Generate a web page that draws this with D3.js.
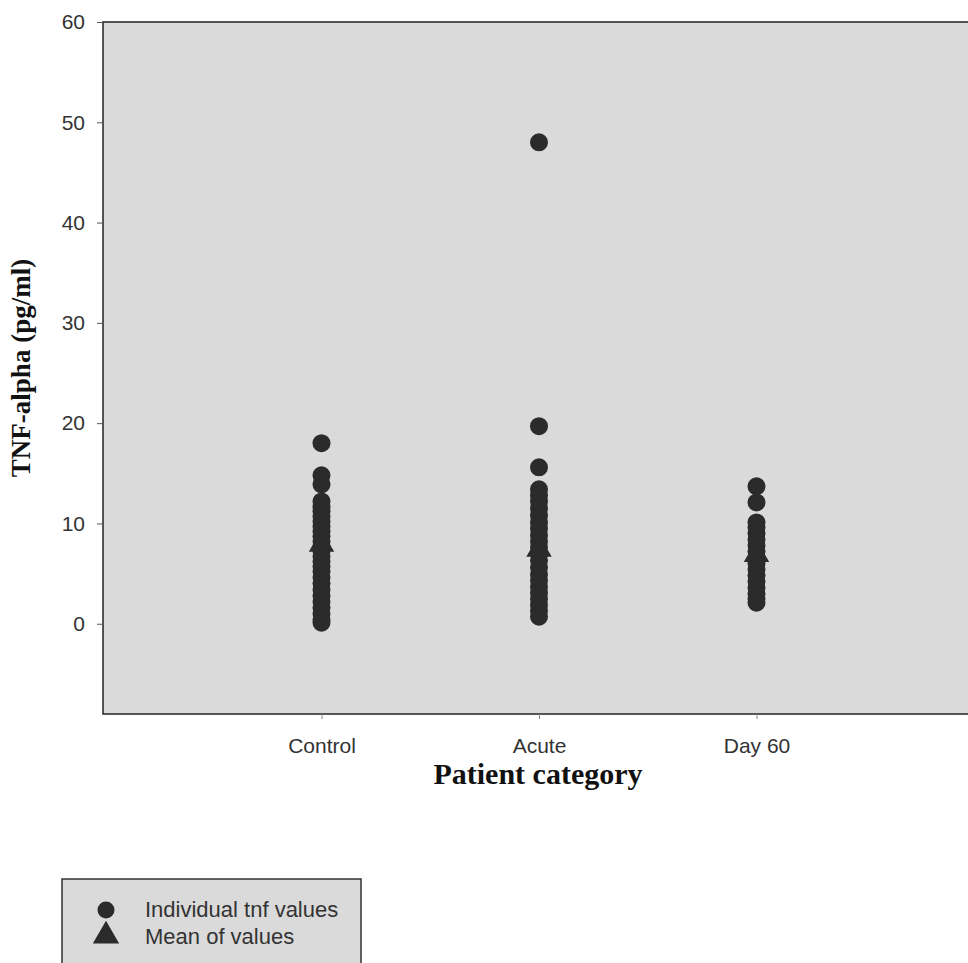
<!DOCTYPE html>
<html>
<head>
<meta charset="utf-8">
<script src="https://cdn.jsdelivr.net/npm/d3@7"></script>
<style>
  body { margin: 0; background: #fff; }
  svg { display: block; }
</style>
</head>
<body>
<svg id="chart" width="968" height="963"></svg>
<script>
// categories and values
var categories = ["Control", "Acute", "Day 60"];
var controlValues = [18.0, 14.8, 13.9, 12.2, 11.7, 11.2, 10.7, 10.2, 9.7, 9.2, 8.7, 8.2, 7.7, 7.2, 6.7, 6.2, 5.7, 5.2, 4.6, 4.0, 3.4, 2.8, 2.2, 1.6, 1.0, 0.4, 0.1];
var acuteValues = [48.0, 19.7, 15.6, 13.4, 12.8, 12.2, 11.5, 10.8, 10.1, 9.5, 8.8, 8.2, 7.6, 7.0, 6.3, 5.6, 4.9, 4.3, 3.7, 3.1, 2.5, 1.9, 1.3, 0.7];
var day60Values = [13.7, 12.1, 10.1, 9.6, 9.0, 8.4, 7.8, 7.2, 6.6, 6.0, 5.4, 4.8, 4.2, 3.6, 3.0, 2.5, 2.1];
var meanValues = [7.9, 7.4, 6.9];
var yTicks = [0, 10, 20, 30, 40, 50, 60];
var legendLabels = ["Individual tnf values", "Mean of values"];

var svg = d3.select("svg#chart");
var dotColor = "#2b2b2b";
var plotFill = "#dadada";
var sans = "Liberation Sans, Arial, sans-serif";
var serif = "Liberation Serif, Times New Roman, serif";

var plot = { left: 103, top: 22, right: 990, bottom: 714 };

var y = d3.scaleLinear()
    .domain([-9, 60])
    .range([plot.bottom, plot.top]);

// categories sit at index 0..2, one step of padding on the left
var x = d3.scaleLinear()
    .domain([-1, 3])
    .range([plot.left + 1, 974]);

// plot background
svg.append("rect")
    .attr("x", plot.left)
    .attr("y", plot.top)
    .attr("width", plot.right - plot.left)
    .attr("height", plot.bottom - plot.top)
    .attr("fill", plotFill)
    .attr("stroke", "#222")
    .attr("stroke-width", 1.5);

// Y axis
var yAxis = svg.append("g")
    .attr("transform", "translate(" + plot.left + ",0)")
    .call(d3.axisLeft(y).tickValues(yTicks).tickSize(6).tickPadding(12).tickFormat(d3.format("d")));
yAxis.select(".domain").remove();
yAxis.selectAll("line").attr("stroke", "#555");
yAxis.selectAll("text")
    .attr("font-family", sans)
    .attr("font-size", 21)
    .attr("fill", "#333");

// X axis
var xAxis = svg.append("g")
    .attr("transform", "translate(0," + plot.bottom + ")")
    .call(d3.axisBottom(x).tickValues([0, 1, 2]).tickSize(5).tickPadding(19).tickFormat((d) => categories[d]));
xAxis.select(".domain").remove();
xAxis.selectAll("line").attr("stroke", "#888");
xAxis.selectAll("text")
    .attr("font-family", sans)
    .attr("font-size", 21)
    .attr("fill", "#333");

// individual values
var series = [controlValues, acuteValues, day60Values];
var points = [];
series.forEach((vals, i) => vals.forEach((v) => points.push({ cat: i, value: v })));

svg.append("g").selectAll("circle")
    .data(points)
    .enter().append("circle")
    .attr("cx", (d) => x(d.cat))
    .attr("cy", (d) => y(d.value))
    .attr("r", 9)
    .attr("fill", dotColor);

// means
var triangle = d3.symbol().type(d3.symbolTriangle).size(280);
svg.append("g").selectAll("path")
    .data(meanValues)
    .enter().append("path")
    .attr("d", triangle)
    .attr("transform", (d, i) => "translate(" + x(i) + "," + y(d) + ")")
    .attr("fill", dotColor);

// axis titles
svg.append("text")
    .attr("x", 538)
    .attr("y", 784)
    .attr("text-anchor", "middle")
    .attr("font-family", serif)
    .attr("font-weight", "bold")
    .attr("font-size", 30)
    .attr("fill", "#111")
    .text("Patient category");

svg.append("text")
    .attr("transform", "translate(30,368) rotate(-90)")
    .attr("text-anchor", "middle")
    .attr("font-family", serif)
    .attr("font-weight", "bold")
    .attr("font-size", 27)
    .attr("fill", "#111")
    .text("TNF-alpha (pg/ml)");

// legend
var legend = svg.append("g");
legend.append("rect")
    .attr("x", 62)
    .attr("y", 879)
    .attr("width", 299)
    .attr("height", 100)
    .attr("fill", plotFill)
    .attr("stroke", "#333")
    .attr("stroke-width", 1.5);

legend.append("circle")
    .attr("cx", 106)
    .attr("cy", 910)
    .attr("r", 8.5)
    .attr("fill", dotColor);

legend.append("path")
    .attr("d", d3.symbol().type(d3.symbolTriangle).size(300))
    .attr("transform", "translate(106,936)")
    .attr("fill", dotColor);

legend.selectAll("text.lbl")
    .data(legendLabels)
    .enter().append("text")
    .attr("class", "lbl")
    .attr("x", 145)
    .attr("y", (d, i) => 917 + i * 27)
    .attr("font-family", sans)
    .attr("font-size", 22)
    .attr("fill", "#333")
    .text((d) => d);
</script>
</body>
</html>
